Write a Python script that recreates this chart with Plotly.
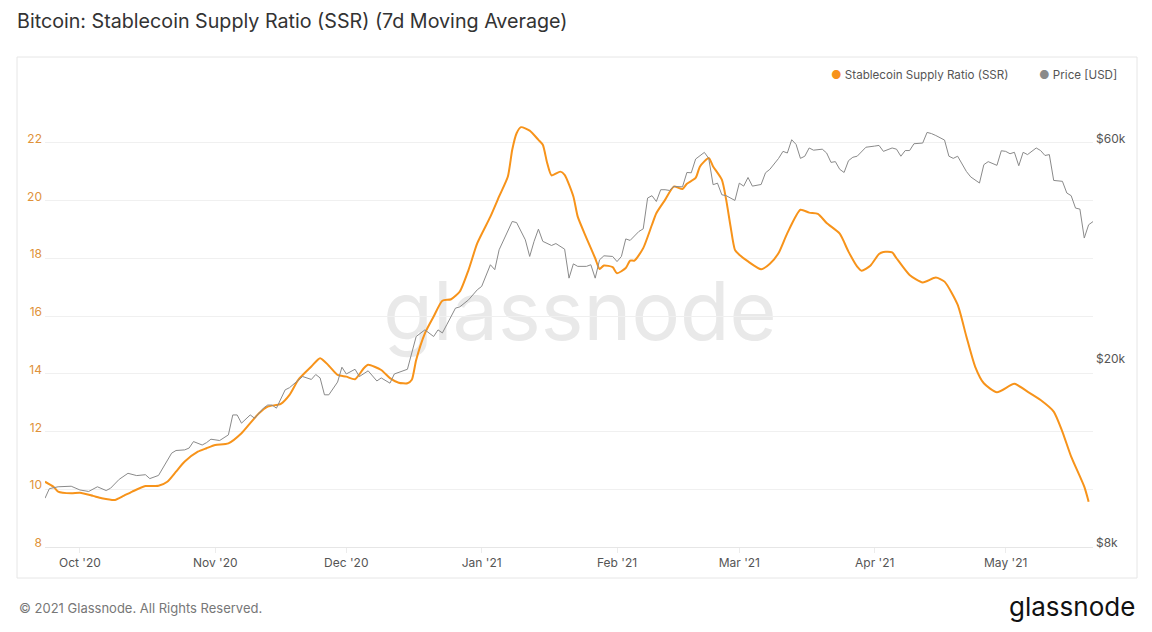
import plotly.graph_objects as go

# --- data --------------------------------------------------------------

ssr_dates = [
    "2020-09-23", "2020-09-25", "2020-09-26", "2020-09-29",
    "2020-10-01", "2020-10-04", "2020-10-06", "2020-10-09", "2020-10-11", "2020-10-13",
    "2020-10-16", "2020-10-19", "2020-10-21", "2020-10-23", "2020-10-25", "2020-10-28", "2020-10-30",
    "2020-11-01", "2020-11-04", "2020-11-07", "2020-11-09", "2020-11-11", "2020-11-13",
    "2020-11-16", "2020-11-18", "2020-11-20", "2020-11-23", "2020-11-25", "2020-11-27", "2020-11-29",
    "2020-12-01", "2020-12-03", "2020-12-05", "2020-12-06", "2020-12-09", "2020-12-11",
    "2020-12-13", "2020-12-15", "2020-12-16", "2020-12-17", "2020-12-19", "2020-12-21",
    "2020-12-23", "2020-12-25", "2020-12-27", "2020-12-29", "2020-12-31",
    "2021-01-03", "2021-01-05", "2021-01-07", "2021-01-08", "2021-01-09", "2021-01-10",
    "2021-01-12", "2021-01-14", "2021-01-15", "2021-01-16", "2021-01-17", "2021-01-19",
    "2021-01-20", "2021-01-22", "2021-01-23", "2021-01-25", "2021-01-27", "2021-01-28",
    "2021-01-29", "2021-01-31",
    "2021-02-01", "2021-02-03", "2021-02-04", "2021-02-05", "2021-02-07", "2021-02-09",
    "2021-02-10", "2021-02-12", "2021-02-14", "2021-02-16", "2021-02-17", "2021-02-19",
    "2021-02-20", "2021-02-22", "2021-02-23", "2021-02-25", "2021-02-26", "2021-02-27",
    "2021-02-28",
    "2021-03-01", "2021-03-03", "2021-03-06", "2021-03-08", "2021-03-10", "2021-03-12",
    "2021-03-15", "2021-03-17", "2021-03-19", "2021-03-21", "2021-03-24", "2021-03-26",
    "2021-03-28", "2021-03-29", "2021-03-31",
    "2021-04-02", "2021-04-03", "2021-04-05", "2021-04-06", "2021-04-09", "2021-04-12",
    "2021-04-15", "2021-04-17", "2021-04-20", "2021-04-22", "2021-04-24", "2021-04-26",
    "2021-04-29",
    "2021-05-03", "2021-05-06", "2021-05-09", "2021-05-12", "2021-05-14", "2021-05-16",
    "2021-05-19", "2021-05-20",
]
ssr_values = [
    10.26, 10.08, 9.92, 9.86,
    9.88, 9.77, 9.69, 9.63, 9.77, 9.92, 10.11, 10.12, 10.26, 10.61, 10.96, 11.30, 11.42,
    11.53, 11.59, 11.94, 12.29, 12.63, 12.86, 12.96, 13.27, 13.79, 14.25, 14.54, 14.28, 13.96,
    13.90, 13.81, 14.19, 14.31, 14.13, 13.85, 13.69, 13.67, 13.79, 14.48, 15.40, 15.98,
    16.53, 16.58, 16.85, 17.60, 18.52,
    19.44, 20.14, 20.83, 21.76, 22.33, 22.54, 22.42, 22.10, 21.93, 21.30, 20.87, 21.00,
    20.89, 20.14, 19.44, 18.70, 18.00, 17.63, 17.75, 17.69,
    17.48, 17.66, 17.92, 17.92, 18.35, 19.16, 19.56, 20.02, 20.48, 20.40, 20.58, 20.78,
    21.18, 21.47, 21.18, 20.72, 20.02, 19.10, 18.29,
    18.12, 17.89, 17.62, 17.81, 18.18, 18.87, 19.68, 19.58, 19.54, 19.22, 18.85, 18.23,
    17.71, 17.57, 17.74,
    18.15, 18.22, 18.20, 18.00, 17.42, 17.16, 17.33, 17.19, 16.39, 15.29, 14.25, 13.67,
    13.36,
    13.65, 13.38, 13.09, 12.69, 11.99, 11.13, 10.09, 9.57,
]

price_dates = [
    "2020-09-23", "2020-09-24", "2020-09-26", "2020-09-28", "2020-09-29",
    "2020-10-01", "2020-10-03", "2020-10-05", "2020-10-07", "2020-10-08", "2020-10-10",
    "2020-10-12", "2020-10-14", "2020-10-16", "2020-10-17", "2020-10-19", "2020-10-20",
    "2020-10-22", "2020-10-23", "2020-10-25", "2020-10-26", "2020-10-27", "2020-10-29",
    "2020-10-30", "2020-10-31",
    "2020-11-02", "2020-11-04", "2020-11-05", "2020-11-06", "2020-11-07", "2020-11-09",
    "2020-11-10", "2020-11-12", "2020-11-13", "2020-11-14", "2020-11-15", "2020-11-17",
    "2020-11-18", "2020-11-21", "2020-11-23", "2020-11-24", "2020-11-25", "2020-11-26",
    "2020-11-27", "2020-11-29", "2020-11-30",
    "2020-12-01", "2020-12-03", "2020-12-04", "2020-12-06", "2020-12-08", "2020-12-09",
    "2020-12-11", "2020-12-12", "2020-12-15", "2020-12-16", "2020-12-17", "2020-12-19",
    "2020-12-21", "2020-12-22", "2020-12-23", "2020-12-24", "2020-12-26", "2020-12-27",
    "2020-12-29", "2020-12-31",
    "2021-01-01", "2021-01-03", "2021-01-04", "2021-01-05", "2021-01-07", "2021-01-08",
    "2021-01-09", "2021-01-11", "2021-01-12", "2021-01-13", "2021-01-14", "2021-01-15",
    "2021-01-17", "2021-01-18", "2021-01-20", "2021-01-21", "2021-01-22", "2021-01-23",
    "2021-01-25", "2021-01-26", "2021-01-27", "2021-01-28", "2021-01-29", "2021-01-31",
    "2021-02-01", "2021-02-02", "2021-02-03", "2021-02-04", "2021-02-06", "2021-02-07",
    "2021-02-08", "2021-02-09", "2021-02-10", "2021-02-11", "2021-02-12", "2021-02-13",
    "2021-02-14", "2021-02-16", "2021-02-17", "2021-02-18", "2021-02-19", "2021-02-21",
    "2021-02-22", "2021-02-23", "2021-02-24", "2021-02-25", "2021-02-26", "2021-02-28",
    "2021-03-01", "2021-03-02", "2021-03-03", "2021-03-04", "2021-03-06", "2021-03-07",
    "2021-03-08", "2021-03-10", "2021-03-11", "2021-03-12", "2021-03-13", "2021-03-14",
    "2021-03-15", "2021-03-16", "2021-03-17", "2021-03-18", "2021-03-20", "2021-03-21",
    "2021-03-22", "2021-03-23", "2021-03-24", "2021-03-25", "2021-03-26", "2021-03-27",
    "2021-03-28", "2021-03-30",
    "2021-04-01", "2021-04-02", "2021-04-03", "2021-04-05", "2021-04-06", "2021-04-07",
    "2021-04-08", "2021-04-09", "2021-04-10", "2021-04-12", "2021-04-13", "2021-04-14",
    "2021-04-15", "2021-04-17", "2021-04-18", "2021-04-19", "2021-04-20", "2021-04-22",
    "2021-04-23", "2021-04-25", "2021-04-26", "2021-04-27", "2021-04-29", "2021-04-30",
    "2021-05-01", "2021-05-02", "2021-05-03", "2021-05-04", "2021-05-05", "2021-05-06",
    "2021-05-08", "2021-05-09", "2021-05-10", "2021-05-11", "2021-05-12", "2021-05-13",
    "2021-05-14", "2021-05-15", "2021-05-16", "2021-05-17", "2021-05-18", "2021-05-19",
    "2021-05-20", "2021-05-21",
]
price_usd = [
    10200, 10700, 10800, 10800, 10830,
    10630, 10550, 10800, 10600, 10720, 11210,
    11550, 11420, 11470, 11250, 11430, 11850,
    12770, 12940, 12980, 13100, 13530, 13300,
    13460, 13690,
    13600, 13990, 15450, 15450, 14830, 15450,
    15200, 15980, 16230, 16230, 15980, 17510,
    17700, 18710, 18440, 18900, 18580, 17080,
    17080, 18200, 19600,
    18950, 19400, 18710, 19250, 18300, 18580,
    18100, 18950, 19400, 21020, 22840, 23610,
    22840, 23610, 23250, 24210, 26310, 26480,
    27420, 28830,
    29320, 32660, 31870, 35190, 38880, 40520,
    40300, 36980, 34040, 36700, 39000, 36700,
    35950, 36300, 35300, 30550, 32800, 32400,
    32400, 32660, 30550, 33480, 34150, 34040,
    33180, 34040, 37150, 36870, 38550, 39060,
    45540, 46080, 44770, 47470, 47470, 47300,
    48260, 48160, 51730, 51650, 55320, 57180,
    55500, 48670, 49050, 46290, 46080, 45000,
    49050, 48330, 50460, 48330, 48730, 51650,
    52550, 55500, 57470, 57000, 60900, 59500,
    55500, 56100, 58450, 57810, 58100, 57000,
    54400, 54600, 52550, 51730, 54860, 55800,
    56100, 58670,
    59000, 59200, 57470, 58450, 58100, 56100,
    57700, 57700, 59700, 59900, 63160, 62800,
    62200, 60800, 56100, 55500, 56100, 52000,
    50600, 49080, 53780, 54600, 53600, 57650,
    57470, 56800, 57200, 53500, 57200, 56550,
    58450, 57700, 56300, 56550, 49720, 49650,
    49500, 46700, 46080, 43320, 43100, 37310,
    39860, 40500,
]

ssr_ticks = [8, 10, 12, 14, 16, 18, 20, 22, 24]
ssr_ticktext = ["8", "10", "12", "14", "16", "18", "20", "22", ""]
price_ticks = [8000, 20000, 60000]
price_ticktext = ["$8k", "$20k", "$60k"]

ORANGE = "#f7931a"
GREY = "#8a8a8a"
FONT = "Inter"

# --- figure ---------------------------------------------------------------

fig = go.Figure()

fig.add_trace(go.Scatter(
    x=ssr_dates, y=ssr_values, name="Stablecoin Supply Ratio (SSR)",
    mode="lines", line=dict(color=ORANGE, width=2, shape="spline", smoothing=0.6),
    showlegend=False,
))
fig.add_trace(go.Scatter(
    x=price_dates, y=price_usd, name="Price [USD]", yaxis="y2",
    mode="lines", line=dict(color=GREY, width=1),
    showlegend=False,
))

# the page puts the figure 8px in from the top-left corner, so the figure is
# 8px smaller and positions below are given in window pixels
OFF = 8
WIN_W, WIN_H = 1152, 632
W, H = WIN_W - OFF, WIN_H - OFF
L, R, T, B = 45, 1093, 85, 547  # plot area in window pixels


def px(x):
    return (x - L) / (R - L)


def py(y):
    return (B - y) / (B - T)


fig.update_layout(
    width=W, height=H,
    margin=dict(l=L - OFF, r=WIN_W - R, t=T - OFF, b=WIN_H - B),
    paper_bgcolor="white", plot_bgcolor="white",
    font=dict(family=FONT, size=12, color="#555"),
    title=dict(
        text="Bitcoin: Stablecoin Supply Ratio (SSR) (7d Moving Average)",
        x=(17 - OFF) / W, y=1 - (21 - OFF) / H, xanchor="left", yanchor="middle",
        xref="container", yref="container",
        font=dict(family=FONT, size=19.7, color="#333"),
    ),
    xaxis=dict(
        type="date", range=["2020-09-23", "2021-05-21"],
        tick0="2020-10-01", dtick="M1", tickformat="%b '%y",
        showgrid=False, showline=True, linecolor="#e6e6e6",
        ticks="outside", ticklen=5, tickcolor="#ececec",
        tickfont=dict(size=12, color="#555"),
    ),
    yaxis=dict(
        range=[8, 24], tickvals=ssr_ticks, ticktext=ssr_ticktext,
        showgrid=True, gridcolor="#f0f0f0", zeroline=False,
        tickfont=dict(size=12, color="#e0923a"), ticklabelstandoff=2,
        ticklabelshift=-4,
    ),
    yaxis2=dict(
        type="log", overlaying="y", side="right",
        range=[3.90309, 4.90309],
        tickvals=price_ticks, ticktext=price_ticktext,
        showgrid=False, zeroline=False,
        tickfont=dict(size=12, color="#555"), ticklabelstandoff=2,
        ticklabelshift=-4,
    ),
    hovermode="x unified",
)

# outer frame of the chart card
fig.add_shape(type="rect", xref="paper", yref="paper",
              x0=px(17), x1=px(1137), y0=py(578), y1=py(57),
              line=dict(color="#e6e6e6", width=1), layer="below")

# watermark behind the lines
fig.add_shape(type="rect", xref="paper", yref="paper",
              x0=px(300), x1=px(860), y0=py(350), y1=py(266),
              line=dict(width=0), layer="below",
              label=dict(text="glassnode", textposition="middle center",
                         font=dict(family=FONT, size=81, color="#e9e9e9")))

# legend drawn as text with dots
fig.add_annotation(xref="paper", yref="paper", x=px(1011), y=py(75),
                   xanchor="right", yanchor="middle", showarrow=False,
                   text=f"<span style='color:{ORANGE}'>●</span> Stablecoin Supply Ratio (SSR)",
                   font=dict(size=11.6, color="#555"))
fig.add_annotation(xref="paper", yref="paper", x=px(1119), y=py(75),
                   xanchor="right", yanchor="middle", showarrow=False,
                   text=f"<span style='color:{GREY}'>●</span> Price [USD]",
                   font=dict(size=11.6, color="#555"))

# footer
fig.add_annotation(xref="paper", yref="paper", x=px(17), y=py(608),
                   xanchor="left", yanchor="middle", showarrow=False,
                   text="© 2021 Glassnode. All Rights Reserved.",
                   font=dict(size=13, color="#777"))
fig.add_annotation(xref="paper", yref="paper", x=px(1137), y=py(606),
                   xanchor="right", yanchor="middle", showarrow=False,
                   text="glassnode",
                   font=dict(family=FONT, size=26, color="#111"))

fig.write_html("out.html")
